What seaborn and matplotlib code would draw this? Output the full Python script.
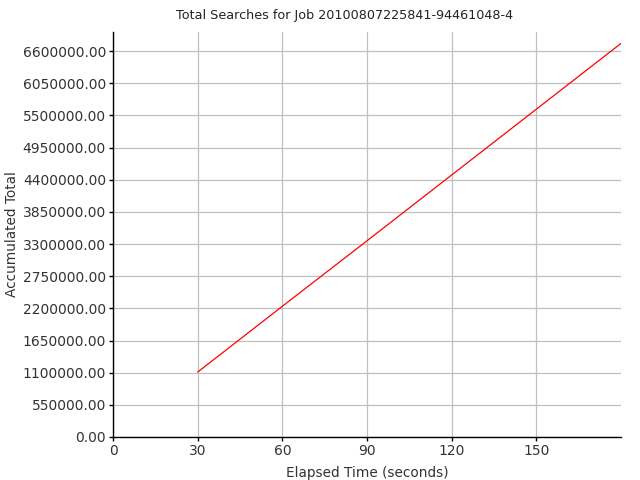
import matplotlib
matplotlib.use("Agg")
import matplotlib.pyplot as plt
import seaborn as sns
import pandas as pd
from matplotlib.ticker import FixedLocator, FuncFormatter

elapsed = [30, 60, 90, 120, 150, 180]
totals = [1110000, 2235000, 3355000, 4480000, 5605000, 6730000]
x_ticks = [0, 30, 60, 90, 120, 150]
y_ticks = [0, 550000, 1100000, 1650000, 2200000, 2750000, 3300000,
           3850000, 4400000, 4950000, 5500000, 6050000, 6600000]

sns.set_style("white")
plt.rcParams['font.family'] = ['DejaVu Sans']

df = pd.DataFrame({"Elapsed": elapsed, "Total": totals})

fig = plt.figure(figsize=(6.4, 4.8), dpi=100)
ax = fig.add_axes([113/640, 43/480, 508/640, 405/480])
sns.lineplot(data=df, x="Elapsed", y="Total", color="#ff0000", lw=0.9, ax=ax)

ax.set_xlim(0, 180)
ax.set_ylim(0, 6925000)
ax.xaxis.set_major_locator(FixedLocator(x_ticks))
ax.yaxis.set_major_locator(FixedLocator(y_ticks))
ax.yaxis.set_major_formatter(FuncFormatter(lambda v, p: f"{v:.2f}"))
ax.grid(True, color="#c0c0c0", lw=0.9)
ax.set_axisbelow(True)
for s in ["top", "right"]:
    ax.spines[s].set_visible(False)
for s in ["left", "bottom"]:
    ax.spines[s].set_color("black")
    ax.spines[s].set_linewidth(1)
ax.tick_params(axis="both", which="major", length=3, width=1, color="black",
               labelsize=10, labelcolor="#333333", pad=2, direction="out",
               left=True, bottom=True)
ax.set_xlabel("Elapsed Time (seconds)", fontsize=9.8, color="#333333", labelpad=6)
ax.set_ylabel("Accumulated Total", fontsize=9.8, color="#333333", labelpad=3)
fig.text(345/640, 1 - 15/480, "Total Searches for Job 20100807225841-94461048-4",
         fontsize=9.2, color="#222222", ha="center", va="center")

fig.savefig("out.png", dpi=100, facecolor="white")
